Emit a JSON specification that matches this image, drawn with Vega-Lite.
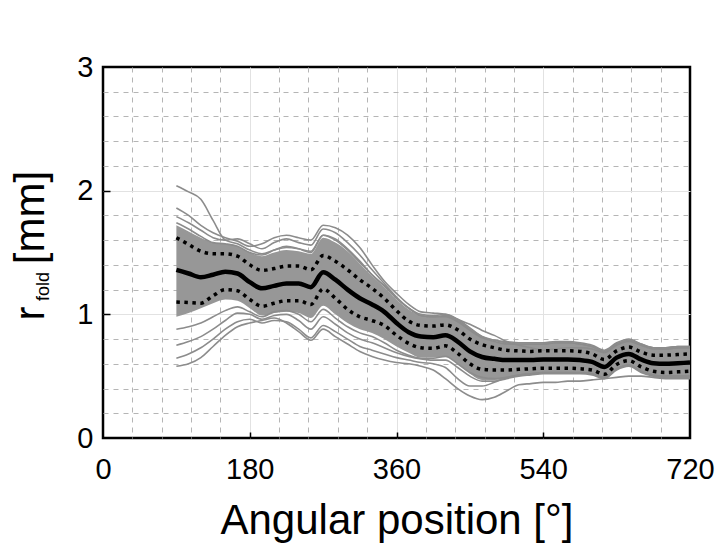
{
"$schema": "https://vega.github.io/schema/vega-lite/v6.json",
"width": 587, "height": 371,
"autosize": {"type": "none"},
"padding": {"left": 103, "top": 67, "right": 27, "bottom": 106},
"background": "white",
"config": {"view": {"stroke": "black", "strokeWidth": 2.5}, "font": "Liberation Sans"},
"datasets": {
"summ": [
{"x":90,"lo":0.98,"hi":1.72,"m":1.36,"u":1.62,"l":1.10},
{"x":105,"lo":1.01,"hi":1.67,"m":1.33,"u":1.565,"l":1.095},
{"x":120,"lo":1.05,"hi":1.62,"m":1.30,"u":1.51,"l":1.09},
{"x":135,"lo":1.09,"hi":1.58,"m":1.32,"u":1.49,"l":1.15},
{"x":150,"lo":1.12,"hi":1.57,"m":1.345,"u":1.49,"l":1.20},
{"x":165,"lo":1.11,"hi":1.55,"m":1.33,"u":1.47,"l":1.19},
{"x":180,"lo":1.05,"hi":1.50,"m":1.26,"u":1.40,"l":1.12},
{"x":195,"lo":0.99,"hi":1.47,"m":1.21,"u":1.355,"l":1.065},
{"x":210,"lo":1.01,"hi":1.50,"m":1.23,"u":1.37,"l":1.09},
{"x":225,"lo":1.02,"hi":1.52,"m":1.25,"u":1.39,"l":1.11},
{"x":240,"lo":1.01,"hi":1.51,"m":1.25,"u":1.39,"l":1.11},
{"x":255,"lo":0.97,"hi":1.49,"m":1.22,"u":1.36,"l":1.08},
{"x":270,"lo":1.07,"hi":1.62,"m":1.34,"u":1.475,"l":1.205},
{"x":285,"lo":1.00,"hi":1.58,"m":1.28,"u":1.43,"l":1.13},
{"x":300,"lo":0.93,"hi":1.51,"m":1.20,"u":1.36,"l":1.04},
{"x":315,"lo":0.88,"hi":1.41,"m":1.13,"u":1.28,"l":0.98},
{"x":330,"lo":0.85,"hi":1.31,"m":1.08,"u":1.21,"l":0.95},
{"x":345,"lo":0.80,"hi":1.22,"m":1.02,"u":1.13,"l":0.91},
{"x":360,"lo":0.74,"hi":1.12,"m":0.93,"u":1.03,"l":0.83},
{"x":375,"lo":0.69,"hi":1.04,"m":0.855,"u":0.945,"l":0.765},
{"x":390,"lo":0.65,"hi":0.99,"m":0.82,"u":0.91,"l":0.73},
{"x":405,"lo":0.65,"hi":0.98,"m":0.815,"u":0.905,"l":0.725},
{"x":420,"lo":0.66,"hi":0.99,"m":0.83,"u":0.915,"l":0.745},
{"x":435,"lo":0.60,"hi":0.95,"m":0.78,"u":0.875,"l":0.685},
{"x":450,"lo":0.52,"hi":0.88,"m":0.70,"u":0.80,"l":0.60},
{"x":465,"lo":0.47,"hi":0.81,"m":0.655,"u":0.755,"l":0.555},
{"x":480,"lo":0.47,"hi":0.78,"m":0.64,"u":0.73,"l":0.55},
{"x":495,"lo":0.48,"hi":0.77,"m":0.63,"u":0.71,"l":0.55},
{"x":510,"lo":0.50,"hi":0.76,"m":0.63,"u":0.705,"l":0.555},
{"x":525,"lo":0.51,"hi":0.76,"m":0.63,"u":0.70,"l":0.56},
{"x":540,"lo":0.52,"hi":0.76,"m":0.635,"u":0.705,"l":0.565},
{"x":555,"lo":0.52,"hi":0.77,"m":0.635,"u":0.705,"l":0.565},
{"x":570,"lo":0.52,"hi":0.77,"m":0.635,"u":0.705,"l":0.565},
{"x":585,"lo":0.52,"hi":0.76,"m":0.63,"u":0.70,"l":0.56},
{"x":600,"lo":0.51,"hi":0.74,"m":0.615,"u":0.68,"l":0.55},
{"x":615,"lo":0.48,"hi":0.70,"m":0.575,"u":0.635,"l":0.515},
{"x":630,"lo":0.55,"hi":0.76,"m":0.65,"u":0.705,"l":0.595},
{"x":645,"lo":0.58,"hi":0.79,"m":0.68,"u":0.735,"l":0.625},
{"x":660,"lo":0.53,"hi":0.75,"m":0.635,"u":0.695,"l":0.575},
{"x":675,"lo":0.50,"hi":0.72,"m":0.605,"u":0.67,"l":0.54},
{"x":690,"lo":0.49,"hi":0.72,"m":0.60,"u":0.67,"l":0.53},
{"x":705,"lo":0.49,"hi":0.73,"m":0.605,"u":0.675,"l":0.535},
{"x":720,"lo":0.49,"hi":0.73,"m":0.61,"u":0.68,"l":0.54}
],
"lines": [
{"id":1,"x":90,"y":2.04},{"id":1,"x":105,"y":1.99},{"id":1,"x":120,"y":1.93},{"id":1,"x":135,"y":1.76},{"id":1,"x":150,"y":1.60},{"id":1,"x":165,"y":1.57},{"id":1,"x":180,"y":1.52},{"id":1,"x":195,"y":1.49},{"id":1,"x":210,"y":1.52},{"id":1,"x":225,"y":1.54},{"id":1,"x":240,"y":1.53},{"id":1,"x":255,"y":1.51},{"id":1,"x":270,"y":1.64},{"id":1,"x":285,"y":1.60},{"id":1,"x":300,"y":1.52},{"id":1,"x":315,"y":1.42},{"id":1,"x":330,"y":1.32},{"id":1,"x":345,"y":1.23},{"id":1,"x":360,"y":1.13},{"id":1,"x":375,"y":1.05},{"id":1,"x":390,"y":1.00},{"id":1,"x":405,"y":0.99},{"id":1,"x":420,"y":1.00},{"id":1,"x":435,"y":0.96},{"id":1,"x":450,"y":0.89},{"id":1,"x":465,"y":0.82},{"id":1,"x":480,"y":0.79},{"id":1,"x":495,"y":0.78},{"id":1,"x":510,"y":0.77},{"id":1,"x":525,"y":0.77},{"id":1,"x":540,"y":0.77},{"id":1,"x":555,"y":0.78},{"id":1,"x":570,"y":0.78},{"id":1,"x":585,"y":0.77},{"id":1,"x":600,"y":0.75},{"id":1,"x":615,"y":0.71},{"id":1,"x":630,"y":0.77},{"id":1,"x":645,"y":0.80},{"id":1,"x":660,"y":0.76},{"id":1,"x":675,"y":0.73},{"id":1,"x":690,"y":0.73},{"id":1,"x":705,"y":0.74},{"id":1,"x":720,"y":0.74},
{"id":2,"x":90,"y":1.86},{"id":2,"x":105,"y":1.80},{"id":2,"x":120,"y":1.72},{"id":2,"x":135,"y":1.66},{"id":2,"x":150,"y":1.62},{"id":2,"x":165,"y":1.59},{"id":2,"x":180,"y":1.55},{"id":2,"x":195,"y":1.57},{"id":2,"x":210,"y":1.62},{"id":2,"x":225,"y":1.64},{"id":2,"x":240,"y":1.62},{"id":2,"x":255,"y":1.60},{"id":2,"x":270,"y":1.72},{"id":2,"x":285,"y":1.70},{"id":2,"x":300,"y":1.64},{"id":2,"x":315,"y":1.54},{"id":2,"x":330,"y":1.40},{"id":2,"x":345,"y":1.27},{"id":2,"x":360,"y":1.17},{"id":2,"x":375,"y":1.08},{"id":2,"x":390,"y":1.02},{"id":2,"x":405,"y":1.01},{"id":2,"x":420,"y":1.00},{"id":2,"x":435,"y":0.96},{"id":2,"x":450,"y":0.92},{"id":2,"x":465,"y":0.87},{"id":2,"x":480,"y":0.83},{"id":2,"x":495,"y":0.78},{"id":2,"x":510,"y":0.75},{"id":2,"x":525,"y":0.73},{"id":2,"x":540,"y":0.71},{"id":2,"x":555,"y":0.72},{"id":2,"x":570,"y":0.73},{"id":2,"x":585,"y":0.73},{"id":2,"x":600,"y":0.72},{"id":2,"x":615,"y":0.69},{"id":2,"x":630,"y":0.75},{"id":2,"x":645,"y":0.78},{"id":2,"x":660,"y":0.75},{"id":2,"x":675,"y":0.73},{"id":2,"x":690,"y":0.72},{"id":2,"x":705,"y":0.73},{"id":2,"x":720,"y":0.73},
{"id":3,"x":90,"y":1.79},{"id":3,"x":105,"y":1.74},{"id":3,"x":120,"y":1.68},{"id":3,"x":135,"y":1.62},{"id":3,"x":150,"y":1.60},{"id":3,"x":165,"y":1.61},{"id":3,"x":180,"y":1.57},{"id":3,"x":195,"y":1.53},{"id":3,"x":210,"y":1.58},{"id":3,"x":225,"y":1.61},{"id":3,"x":240,"y":1.58},{"id":3,"x":255,"y":1.56},{"id":3,"x":270,"y":1.69},{"id":3,"x":285,"y":1.66},{"id":3,"x":300,"y":1.58},{"id":3,"x":315,"y":1.48},{"id":3,"x":330,"y":1.36},{"id":3,"x":345,"y":1.25},{"id":3,"x":360,"y":1.14},{"id":3,"x":375,"y":1.05},{"id":3,"x":390,"y":0.99},{"id":3,"x":405,"y":0.98},{"id":3,"x":420,"y":0.98},{"id":3,"x":435,"y":0.94},{"id":3,"x":450,"y":0.87},{"id":3,"x":465,"y":0.81},{"id":3,"x":480,"y":0.78},{"id":3,"x":495,"y":0.76},{"id":3,"x":510,"y":0.76},{"id":3,"x":525,"y":0.76},{"id":3,"x":540,"y":0.76},{"id":3,"x":555,"y":0.77},{"id":3,"x":570,"y":0.77},{"id":3,"x":585,"y":0.76},{"id":3,"x":600,"y":0.74},{"id":3,"x":615,"y":0.70},{"id":3,"x":630,"y":0.76},{"id":3,"x":645,"y":0.79},{"id":3,"x":660,"y":0.76},{"id":3,"x":675,"y":0.73},{"id":3,"x":690,"y":0.73},{"id":3,"x":705,"y":0.74},{"id":3,"x":720,"y":0.74},
{"id":4,"x":90,"y":0.58},{"id":4,"x":105,"y":0.60},{"id":4,"x":120,"y":0.65},{"id":4,"x":135,"y":0.74},{"id":4,"x":150,"y":0.83},{"id":4,"x":165,"y":0.90},{"id":4,"x":180,"y":0.93},{"id":4,"x":195,"y":0.95},{"id":4,"x":210,"y":0.97},{"id":4,"x":225,"y":0.93},{"id":4,"x":240,"y":0.86},{"id":4,"x":255,"y":0.79},{"id":4,"x":270,"y":0.88},{"id":4,"x":285,"y":0.82},{"id":4,"x":300,"y":0.76},{"id":4,"x":315,"y":0.70},{"id":4,"x":330,"y":0.66},{"id":4,"x":345,"y":0.63},{"id":4,"x":360,"y":0.61},{"id":4,"x":375,"y":0.60},{"id":4,"x":390,"y":0.58},{"id":4,"x":405,"y":0.55},{"id":4,"x":420,"y":0.48},{"id":4,"x":435,"y":0.40},{"id":4,"x":450,"y":0.34},{"id":4,"x":465,"y":0.31},{"id":4,"x":480,"y":0.33},{"id":4,"x":495,"y":0.38},{"id":4,"x":510,"y":0.43},{"id":4,"x":525,"y":0.44},{"id":4,"x":540,"y":0.45},{"id":4,"x":555,"y":0.45},{"id":4,"x":570,"y":0.46},{"id":4,"x":585,"y":0.46},{"id":4,"x":600,"y":0.47},{"id":4,"x":615,"y":0.48},{"id":4,"x":630,"y":0.49},{"id":4,"x":645,"y":0.50},{"id":4,"x":660,"y":0.50},{"id":4,"x":675,"y":0.49},{"id":4,"x":690,"y":0.48},{"id":4,"x":705,"y":0.48},{"id":4,"x":720,"y":0.48},
{"id":5,"x":90,"y":0.645},{"id":5,"x":105,"y":0.68},{"id":5,"x":120,"y":0.73},{"id":5,"x":135,"y":0.80},{"id":5,"x":150,"y":0.88},{"id":5,"x":165,"y":0.94},{"id":5,"x":180,"y":0.96},{"id":5,"x":195,"y":0.93},{"id":5,"x":210,"y":0.95},{"id":5,"x":225,"y":0.94},{"id":5,"x":240,"y":0.88},{"id":5,"x":255,"y":0.81},{"id":5,"x":270,"y":0.91},{"id":5,"x":285,"y":0.86},{"id":5,"x":300,"y":0.80},{"id":5,"x":315,"y":0.74},{"id":5,"x":330,"y":0.71},{"id":5,"x":345,"y":0.68},{"id":5,"x":360,"y":0.65},{"id":5,"x":375,"y":0.63},{"id":5,"x":390,"y":0.61},{"id":5,"x":405,"y":0.60},{"id":5,"x":420,"y":0.57},{"id":5,"x":435,"y":0.48},{"id":5,"x":450,"y":0.42},{"id":5,"x":465,"y":0.42},{"id":5,"x":480,"y":0.45},{"id":5,"x":495,"y":0.49},{"id":5,"x":510,"y":0.51},{"id":5,"x":525,"y":0.52},{"id":5,"x":540,"y":0.53},{"id":5,"x":555,"y":0.53},{"id":5,"x":570,"y":0.53},{"id":5,"x":585,"y":0.53},{"id":5,"x":600,"y":0.52},{"id":5,"x":615,"y":0.49},{"id":5,"x":630,"y":0.56},{"id":5,"x":645,"y":0.59},{"id":5,"x":660,"y":0.54},{"id":5,"x":675,"y":0.51},{"id":5,"x":690,"y":0.50},{"id":5,"x":705,"y":0.50},{"id":5,"x":720,"y":0.50},
{"id":6,"x":90,"y":0.75},{"id":6,"x":105,"y":0.78},{"id":6,"x":120,"y":0.82},{"id":6,"x":135,"y":0.88},{"id":6,"x":150,"y":0.95},{"id":6,"x":165,"y":1.01},{"id":6,"x":180,"y":1.00},{"id":6,"x":195,"y":0.96},{"id":6,"x":210,"y":0.99},{"id":6,"x":225,"y":1.00},{"id":6,"x":240,"y":0.95},{"id":6,"x":255,"y":0.88},{"id":6,"x":270,"y":0.98},{"id":6,"x":285,"y":0.92},{"id":6,"x":300,"y":0.85},{"id":6,"x":315,"y":0.80},{"id":6,"x":330,"y":0.77},{"id":6,"x":345,"y":0.73},{"id":6,"x":360,"y":0.69},{"id":6,"x":375,"y":0.66},{"id":6,"x":390,"y":0.64},{"id":6,"x":405,"y":0.63},{"id":6,"x":420,"y":0.63},{"id":6,"x":435,"y":0.57},{"id":6,"x":450,"y":0.50},{"id":6,"x":465,"y":0.46},{"id":6,"x":480,"y":0.46},{"id":6,"x":495,"y":0.48},{"id":6,"x":510,"y":0.50},{"id":6,"x":525,"y":0.51},{"id":6,"x":540,"y":0.52},{"id":6,"x":555,"y":0.52},{"id":6,"x":570,"y":0.52},{"id":6,"x":585,"y":0.52},{"id":6,"x":600,"y":0.51},{"id":6,"x":615,"y":0.48},{"id":6,"x":630,"y":0.55},{"id":6,"x":645,"y":0.58},{"id":6,"x":660,"y":0.53},{"id":6,"x":675,"y":0.50},{"id":6,"x":690,"y":0.49},{"id":6,"x":705,"y":0.49},{"id":6,"x":720,"y":0.49},
{"id":7,"x":90,"y":0.88},{"id":7,"x":105,"y":0.90},{"id":7,"x":120,"y":0.93},{"id":7,"x":135,"y":0.98},{"id":7,"x":150,"y":1.03},{"id":7,"x":165,"y":1.06},{"id":7,"x":180,"y":1.02},{"id":7,"x":195,"y":0.98},{"id":7,"x":210,"y":1.02},{"id":7,"x":225,"y":1.03},{"id":7,"x":240,"y":1.00},{"id":7,"x":255,"y":0.94},{"id":7,"x":270,"y":1.04},{"id":7,"x":285,"y":0.97},{"id":7,"x":300,"y":0.90},{"id":7,"x":315,"y":0.85},{"id":7,"x":330,"y":0.82},{"id":7,"x":345,"y":0.77},{"id":7,"x":360,"y":0.71},{"id":7,"x":375,"y":0.67},{"id":7,"x":390,"y":0.645},{"id":7,"x":405,"y":0.645},{"id":7,"x":420,"y":0.66},{"id":7,"x":435,"y":0.60},{"id":7,"x":450,"y":0.53},{"id":7,"x":465,"y":0.49},{"id":7,"x":480,"y":0.48},{"id":7,"x":495,"y":0.49},{"id":7,"x":510,"y":0.51},{"id":7,"x":525,"y":0.52},{"id":7,"x":540,"y":0.53},{"id":7,"x":555,"y":0.53},{"id":7,"x":570,"y":0.53},{"id":7,"x":585,"y":0.53},{"id":7,"x":600,"y":0.52},{"id":7,"x":615,"y":0.49},{"id":7,"x":630,"y":0.56},{"id":7,"x":645,"y":0.59},{"id":7,"x":660,"y":0.54},{"id":7,"x":675,"y":0.51},{"id":7,"x":690,"y":0.50},{"id":7,"x":705,"y":0.50},{"id":7,"x":720,"y":0.50},
{"id":8,"x":90,"y":1.74},{"id":8,"x":105,"y":1.69},{"id":8,"x":120,"y":1.63},{"id":8,"x":135,"y":1.58},{"id":8,"x":150,"y":1.57},{"id":8,"x":165,"y":1.55},{"id":8,"x":180,"y":1.50},{"id":8,"x":195,"y":1.48},{"id":8,"x":210,"y":1.52},{"id":8,"x":225,"y":1.55},{"id":8,"x":240,"y":1.53},{"id":8,"x":255,"y":1.50},{"id":8,"x":270,"y":1.64},{"id":8,"x":285,"y":1.61},{"id":8,"x":300,"y":1.53},{"id":8,"x":315,"y":1.43},{"id":8,"x":330,"y":1.32},{"id":8,"x":345,"y":1.23},{"id":8,"x":360,"y":1.13},{"id":8,"x":375,"y":1.05},{"id":8,"x":390,"y":0.99},{"id":8,"x":405,"y":0.98},{"id":8,"x":420,"y":0.99},{"id":8,"x":435,"y":0.95},{"id":8,"x":450,"y":0.88},{"id":8,"x":465,"y":0.82},{"id":8,"x":480,"y":0.79},{"id":8,"x":495,"y":0.77},{"id":8,"x":510,"y":0.76},{"id":8,"x":525,"y":0.76},{"id":8,"x":540,"y":0.76},{"id":8,"x":555,"y":0.77},{"id":8,"x":570,"y":0.77},{"id":8,"x":585,"y":0.76},{"id":8,"x":600,"y":0.74},{"id":8,"x":615,"y":0.70},{"id":8,"x":630,"y":0.76},{"id":8,"x":645,"y":0.79},{"id":8,"x":660,"y":0.75},{"id":8,"x":675,"y":0.72},{"id":8,"x":690,"y":0.72},{"id":8,"x":705,"y":0.73},{"id":8,"x":720,"y":0.73}
]
},
"layer": [
{
"data": {"name": "summ"},
"mark": {"type": "area", "color": "#979797", "interpolate": "monotone"},
"encoding": {
"x": {"field": "x", "type": "quantitative", "scale": {"domain": [0, 720], "nice": false, "zero": false},
"axis": {
"values": [0,36,72,108,144,180,216,252,288,324,360,396,432,468,504,540,576,612,648,684,720],
"domain": false,
"grid": true,
"gridColor": {"condition": {"test": "datum.value % 180 === 0", "value": "#e2e2e2"}, "value": "#b5b5b5"},
"gridDash": {"condition": {"test": "datum.value % 180 === 0", "value": []}, "value": [5, 5]},
"gridOpacity": {"condition": {"test": "datum.value === 0 || datum.value === 720", "value": 0}, "value": 1},
"gridWidth": 1,
"ticks": true,
"tickSize": -6,
"tickColor": "black",
"tickWidth": 1.5,
"tickOpacity": {"condition": {"test": "datum.value % 180 === 0 && datum.value > 0 && datum.value < 720", "value": 1}, "value": 0},
"labelExpr": "datum.value % 180 === 0 ? format(datum.value, 'd') : ''",
"labelFontSize": 29, "labelColor": "black", "labelPadding": 23, "labelFlush": false, "labelOverlap": false,
"labelFont": "Liberation Sans",
"title": "Angular position [°]", "titleFontSize": 42, "titleFontWeight": "normal", "titleColor": "black",
"titleFont": "Liberation Sans", "titleBaseline": "alphabetic", "titleY": 95
}},
"y": {"field": "lo", "type": "quantitative", "scale": {"domain": [0, 3], "nice": false, "zero": false},
"axis": {
"orient": "left",
"values": [0,0.2,0.4,0.6,0.8,1,1.2,1.4,1.6,1.8,2,2.2,2.4,2.6,2.8,3],
"domain": false,
"grid": true,
"gridColor": {"condition": {"test": "abs(datum.value - round(datum.value)) < 0.001", "value": "#e2e2e2"}, "value": "#b5b5b5"},
"gridDash": {"condition": {"test": "abs(datum.value - round(datum.value)) < 0.001", "value": []}, "value": [5, 5]},
"gridOpacity": {"condition": {"test": "datum.value < 0.001 || datum.value > 2.999", "value": 0}, "value": 1},
"gridWidth": 1,
"ticks": true,
"tickSize": -7,
"tickColor": "black",
"tickWidth": 1.5,
"tickOpacity": {"condition": {"test": "abs(datum.value - round(datum.value)) < 0.001 && datum.value > 0.5 && datum.value < 2.5", "value": 1}, "value": 0},
"labelExpr": "abs(datum.value - round(datum.value)) < 0.001 ? format(datum.value, 'd') : ''",
"labelFontSize": 29, "labelColor": "black", "labelPadding": 17, "labelFlush": false, "labelOverlap": false,
"labelFont": "Liberation Sans",
"title": "r", "titleFontSize": 42, "titleFontWeight": "normal", "titleColor": "black",
"titleFont": "Liberation Sans", "titleAngle": 270, "titleBaseline": "alphabetic", "titleAlign": "left",
"titleX": -60, "titleY": 253
}},
"y2": {"field": "hi"}
}
},
{
"data": {"name": "lines"},
"mark": {"type": "line", "color": "#8c8c8c", "strokeWidth": 1.6, "interpolate": "monotone"},
"encoding": {
"x": {"field": "x", "type": "quantitative", "scale": {"domain": [0, 720], "nice": false, "zero": false}, "axis": null},
"y": {"field": "y", "type": "quantitative", "scale": {"domain": [0, 3], "nice": false, "zero": false},
"axis": {"orient": "left", "domain": false, "grid": false, "ticks": false, "labels": false,
"title": "fold", "titleFontSize": 18, "titleFontWeight": "normal", "titleColor": "black", "titleFont": "Liberation Sans",
"titleAngle": 270, "titleBaseline": "alphabetic", "titleAlign": "center", "titleX": -55, "titleY": 219}},
"detail": {"field": "id"}
}
},
{
"data": {"name": "summ"},
"mark": {"type": "line", "color": "black", "strokeWidth": 4.5, "interpolate": "monotone"},
"encoding": {
"x": {"field": "x", "type": "quantitative", "scale": {"domain": [0, 720], "nice": false, "zero": false}, "axis": null},
"y": {"field": "m", "type": "quantitative", "scale": {"domain": [0, 3], "nice": false, "zero": false},
"axis": {"orient": "left", "domain": false, "grid": false, "ticks": false, "labels": false,
"title": "[mm]", "titleFontSize": 42, "titleFontWeight": "normal", "titleColor": "black", "titleFont": "Liberation Sans",
"titleAngle": 270, "titleBaseline": "alphabetic", "titleAlign": "center", "titleX": -60, "titleY": 150}}
}
},
{
"data": {"name": "summ"},
"mark": {"type": "line", "color": "black", "strokeWidth": 3.5, "strokeDash": [3.5, 4.5], "strokeCap": "butt", "interpolate": "monotone"},
"encoding": {
"x": {"field": "x", "type": "quantitative", "scale": {"domain": [0, 720], "nice": false, "zero": false}, "axis": null},
"y": {"field": "u", "type": "quantitative", "scale": {"domain": [0, 3], "nice": false, "zero": false}, "axis": null}
}
},
{
"data": {"name": "summ"},
"mark": {"type": "line", "color": "black", "strokeWidth": 3.5, "strokeDash": [3.5, 4.5], "strokeCap": "butt", "interpolate": "monotone"},
"encoding": {
"x": {"field": "x", "type": "quantitative", "scale": {"domain": [0, 720], "nice": false, "zero": false}, "axis": null},
"y": {"field": "l", "type": "quantitative", "scale": {"domain": [0, 3], "nice": false, "zero": false}, "axis": null}
}
}
],
"resolve": {"axis": {"x": "independent", "y": "independent"}}
}
